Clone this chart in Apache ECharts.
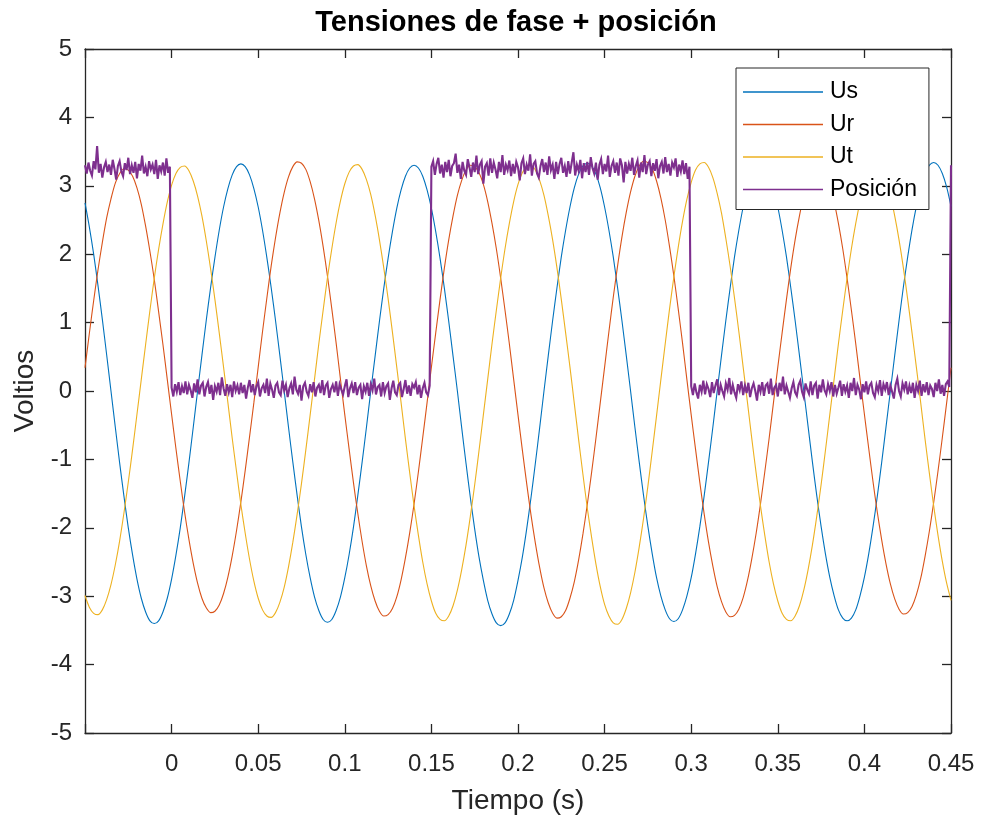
<!DOCTYPE html>
<html>
<head>
<meta charset="utf-8">
<script src="https://cdn.jsdelivr.net/npm/echarts@6/dist/echarts.min.js"></script>
<style>
  html, body { margin: 0; padding: 0; background: #ffffff; }
  #chart { width: 981px; height: 816px; }
</style>
</head>
<body>
<div id="chart"></div>
<script>
// Phase voltages sampled every 2.5 ms starting at t = -0.05 s
const waveStart = -0.05;
const waveStep = 0.0025;

const usValues = [
  2.75, 2.40, 2.00, 1.54, 1.05, 0.53, 0.00,
  -0.53, -1.05, -1.54, -2.00, -2.40, -2.75, -3.03, -3.23, -3.36, -3.40, -3.36, -3.23, -3.03, -2.75, -2.40, -2.00, -1.54, -1.05, -0.53, 0.00,
  0.52, 1.03, 1.51, 1.95, 2.35, 2.69, 2.96, 3.16, 3.28, 3.32, 3.28, 3.16, 2.96, 2.69, 2.35, 1.95, 1.51, 1.03, 0.52, 0.00,
  -0.53, -1.04, -1.53, -1.99, -2.39, -2.73, -3.01, -3.21, -3.34, -3.38, -3.34, -3.21, -3.01, -2.73, -2.39, -1.99, -1.53, -1.04, -0.53, 0.00,
  0.51, 1.02, 1.50, 1.94, 2.33, 2.67, 2.94, 3.14, 3.26, 3.30, 3.26, 3.14, 2.94, 2.67, 2.33, 1.94, 1.50, 1.02, 0.51, 0.00,
  -0.54, -1.06, -1.56, -2.02, -2.43, -2.77, -3.06, -3.26, -3.39, -3.43, -3.39, -3.26, -3.06, -2.77, -2.43, -2.02, -1.56, -1.06, -0.54, 0.00,
  0.52, 1.03, 1.51, 1.96, 2.35, 2.69, 2.97, 3.17, 3.29, 3.33, 3.29, 3.17, 2.97, 2.69, 2.35, 1.96, 1.51, 1.03, 0.52, 0.00,
  -0.53, -1.04, -1.53, -1.98, -2.38, -2.73, -3.00, -3.20, -3.33, -3.37, -3.33, -3.20, -3.00, -2.73, -2.38, -1.98, -1.53, -1.04, -0.53, 0.00,
  0.52, 1.03, 1.51, 1.96, 2.35, 2.69, 2.97, 3.17, 3.29, 3.33, 3.29, 3.17, 2.97, 2.69, 2.35, 1.96, 1.51, 1.03, 0.52, 0.00,
  -0.52, -1.04, -1.53, -1.98, -2.38, -2.72, -2.99, -3.20, -3.32, -3.36, -3.32, -3.20, -2.99, -2.72, -2.38, -1.98, -1.53, -1.04, -0.52, 0.00,
  0.52, 1.03, 1.52, 1.96, 2.36, 2.70, 2.98, 3.18, 3.30, 3.34, 3.30, 3.18, 2.98, 2.70
];

const urValues = [
  0.34, 0.84, 1.32, 1.77, 2.17, 2.53, 2.81, 3.04, 3.18, 3.25, 3.23, 3.14, 2.97, 2.73, 2.41, 2.04, 1.63, 1.16, 0.68, 0.17,
  -0.34, -0.84, -1.32, -1.77, -2.17, -2.52, -2.81, -3.03, -3.17, -3.24, -3.22, -3.13, -2.96, -2.72, -2.41, -2.04, -1.62, -1.16, -0.67, -0.17,
  0.35, 0.87, 1.36, 1.83, 2.24, 2.60, 2.90, 3.13, 3.28, 3.35, 3.33, 3.24, 3.06, 2.81, 2.49, 2.11, 1.68, 1.20, 0.70, 0.17,
  -0.35, -0.85, -1.34, -1.79, -2.20, -2.56, -2.85, -3.07, -3.22, -3.29, -3.27, -3.18, -3.01, -2.76, -2.44, -2.07, -1.65, -1.18, -0.68, -0.17,
  0.35, 0.85, 1.34, 1.80, 2.21, 2.56, 2.86, 3.08, 3.23, 3.30, 3.28, 3.19, 3.02, 2.77, 2.45, 2.08, 1.65, 1.18, 0.69, 0.17,
  -0.35, -0.86, -1.35, -1.81, -2.22, -2.58, -2.88, -3.10, -3.25, -3.32, -3.30, -3.21, -3.03, -2.79, -2.47, -2.09, -1.66, -1.19, -0.69, -0.17,
  0.35, 0.87, 1.37, 1.83, 2.25, 2.61, 2.91, 3.14, 3.29, 3.36, 3.34, 3.25, 3.07, 2.82, 2.50, 2.11, 1.68, 1.20, 0.70, 0.17,
  -0.35, -0.85, -1.34, -1.80, -2.21, -2.56, -2.86, -3.08, -3.23, -3.30, -3.28, -3.19, -3.02, -2.77, -2.45, -2.08, -1.65, -1.18, -0.69, -0.17,
  0.35, 0.85, 1.34, 1.80, 2.21, 2.56, 2.86, 3.08, 3.23, 3.30, 3.28, 3.19, 3.02, 2.77, 2.45, 2.08, 1.65, 1.18, 0.69, 0.17,
  -0.34, -0.84, -1.33, -1.78, -2.18, -2.53, -2.82, -3.04, -3.19, -3.26, -3.24, -3.15, -2.98, -2.74, -2.42, -2.05, -1.63, -1.17, -0.68, -0.17,
  0.34
];

const utValues = [
  -2.99, -3.16, -3.25, -3.27, -3.20, -3.05, -2.83, -2.54, -2.19, -1.78, -1.33, -0.85, -0.34,
  0.17, 0.68, 1.18, 1.65, 2.07, 2.44, 2.76, 3.01, 3.18, 3.27, 3.29, 3.22, 3.07, 2.85, 2.56, 2.20, 1.79, 1.34, 0.85, 0.35,
  -0.17, -0.69, -1.18, -1.66, -2.08, -2.46, -2.78, -3.03, -3.20, -3.29, -3.31, -3.24, -3.09, -2.87, -2.57, -2.21, -1.80, -1.35, -0.86, -0.35,
  0.17, 0.69, 1.18, 1.66, 2.08, 2.46, 2.78, 3.03, 3.20, 3.29, 3.31, 3.24, 3.09, 2.87, 2.57, 2.21, 1.80, 1.35, 0.86, 0.35,
  -0.17, -0.70, -1.20, -1.68, -2.11, -2.50, -2.82, -3.07, -3.25, -3.34, -3.36, -3.29, -3.14, -2.91, -2.61, -2.25, -1.83, -1.37, -0.87, -0.35,
  0.17, 0.69, 1.18, 1.65, 2.08, 2.45, 2.77, 3.02, 3.19, 3.28, 3.30, 3.23, 3.08, 2.86, 2.56, 2.21, 1.80, 1.34, 0.85, 0.35,
  -0.18, -0.71, -1.22, -1.71, -2.14, -2.53, -2.86, -3.12, -3.29, -3.39, -3.41, -3.34, -3.18, -2.95, -2.65, -2.28, -1.86, -1.39, -0.88, -0.36,
  0.17, 0.69, 1.20, 1.67, 2.10, 2.48, 2.80, 3.05, 3.23, 3.32, 3.34, 3.27, 3.12, 2.89, 2.60, 2.23, 1.82, 1.36, 0.87, 0.35,
  -0.17, -0.70, -1.20, -1.68, -2.11, -2.50, -2.82, -3.07, -3.25, -3.34, -3.36, -3.29, -3.14, -2.91, -2.61, -2.25, -1.83, -1.37, -0.87, -0.35,
  0.17, 0.69, 1.18, 1.65, 2.08, 2.45, 2.77, 3.02, 3.19, 3.28, 3.30, 3.23, 3.08, 2.86, 2.56, 2.21, 1.80, 1.34, 0.85, 0.35,
  -0.17, -0.70, -1.20, -1.68, -2.11, -2.49, -2.81, -3.06
];

// Position sensor output, sampled every 1 ms starting at t = -0.05 s
const posStart = -0.05;
const posStep = 0.001;

const posValues = [
  // -0.050 .. -0.001 s : high
  3.30, 3.18, 3.34, 3.22, 3.15, 3.36, 3.24, 3.58, 3.19, 3.32,
  3.12, 3.27, 3.35, 3.20, 3.31, 3.16, 3.38, 3.25, 3.09, 3.29,
  3.36, 3.21, 3.14, 3.33, 3.23, 3.41, 3.17, 3.30, 3.19, 3.35,
  3.11, 3.32, 3.22, 3.44, 3.18, 3.28, 3.14, 3.36, 3.24, 3.31,
  3.17, 3.38, 3.10, 3.30, 3.21, 3.34, 3.15, 3.40, 3.19, 3.28,
  // 0.000 .. 0.149 s : low
  0.05, -0.08, 0.10, -0.01, 0.13, -0.06, 0.07, -0.03, 0.14, -0.05,
  0.09, 0.01, -0.10, 0.11, -0.02, 0.17, -0.05, 0.08, 0.12, -0.08,
  0.06, 0.13, -0.04, 0.09, -0.13, 0.07, -0.01, 0.12, -0.06, 0.20,
  0.04, -0.07, 0.10, -0.02, 0.09, -0.09, 0.14, 0.00, 0.08, -0.05,
  0.12, -0.03, 0.09, -0.11, 0.05, 0.16, -0.02, 0.10, -0.06, 0.07,
  0.13, -0.08, 0.04, 0.09, -0.03, 0.18, -0.07, 0.11, 0.02, -0.10,
  0.08, 0.12, -0.02, -0.06, 0.15, 0.01, 0.09, -0.09, 0.04, 0.11,
  -0.05, 0.21, 0.02, -0.04, 0.09, -0.14, 0.07, 0.12, -0.01, -0.07,
  0.10, -0.02, 0.13, -0.08, 0.05, 0.09, -0.03, 0.16, -0.06, 0.08,
  0.12, -0.10, 0.03, 0.09, -0.02, 0.14, -0.07, 0.10, 0.02, -0.05,
  0.07, 0.17, -0.09, 0.04, 0.11, -0.03, 0.13, -0.06, 0.05, 0.09,
  -0.12, 0.07, -0.01, 0.12, -0.07, 0.10, 0.01, 0.18, -0.05, 0.06,
  0.09, -0.08, 0.13, -0.03, 0.07, 0.11, -0.13, 0.04, 0.15, -0.02,
  -0.06, 0.09, 0.12, -0.09, 0.03, 0.16, -0.04, 0.08, -0.07, 0.10,
  0.05, 0.13, -0.05, 0.09, -0.10, 0.04, 0.12, -0.02, -0.06, 0.08,
  // 0.150 .. 0.299 s : high
  3.28, 3.36, 3.16, 3.32, 3.41, 3.18, 3.31, 3.12, 3.35, 3.20,
  3.38, 3.14, 3.29, 3.33, 3.47, 3.19, 3.31, 3.10, 3.35, 3.22,
  3.16, 3.39, 3.27, 3.13, 3.34, 3.20, 3.44, 3.17, 3.31, 3.36,
  3.03, 3.28, 3.33, 3.15, 3.40, 3.19, 3.34, 3.24, 3.11, 3.35,
  3.20, 3.45, 3.16, 3.31, 3.23, 3.37, 3.14, 3.32, 3.18, 3.35,
  3.27, 3.08, 3.33, 3.40, 3.17, 3.31, 3.22, 3.46, 3.15, 3.32,
  3.36, 3.18, 3.12, 3.29, 3.39, 3.20, 3.34, 3.16, 3.43, 3.23,
  3.31, 3.10, 3.35, 3.17, 3.32, 3.41, 3.19, 3.29, 3.13, 3.36,
  3.18, 3.34, 3.49, 3.15, 3.31, 3.22, 3.38, 3.11, 3.33, 3.20,
  3.35, 3.16, 3.42, 3.26, 3.18, 3.34, 3.09, 3.31, 3.39, 3.17,
  3.32, 3.21, 3.44, 3.13, 3.29, 3.36, 3.19, 3.34, 3.15, 3.40,
  3.30, 3.05, 3.35, 3.18, 3.32, 3.22, 3.41, 3.16, 3.29, 3.37,
  3.12, 3.34, 3.20, 3.45, 3.17, 3.31, 3.36, 3.14, 3.33, 3.22,
  3.39, 3.11, 3.29, 3.35, 3.18, 3.42, 3.20, 3.32, 3.15, 3.34,
  3.27, 3.40, 3.13, 3.31, 3.21, 3.37, 3.17, 3.33, 3.10, 3.28,
  // 0.300 .. 0.449 s : low
  0.07, -0.06, 0.11, -0.02, -0.11, 0.09, -0.01, 0.15, -0.05, 0.10,
  0.03, -0.09, 0.13, -0.03, 0.08, 0.17, -0.06, 0.09, 0.00, -0.08,
  0.11, 0.02, 0.19, -0.05, 0.09, -0.02, -0.10, 0.10, 0.01, 0.14,
  -0.06, 0.08, -0.03, 0.12, -0.09, 0.04, 0.11, 0.00, -0.14, 0.09,
  -0.01, 0.13, -0.07, 0.08, 0.11, -0.04, 0.18, -0.06, 0.05, 0.09,
  -0.08, 0.12, 0.00, 0.21, -0.05, 0.08, 0.10, -0.10, 0.04, 0.13,
  -0.02, -0.07, 0.09, 0.15, -0.01, -0.09, 0.11, 0.02, -0.04, 0.14,
  -0.06, 0.08, 0.12, -0.11, 0.09, -0.02, 0.17, 0.01, -0.05, 0.10,
  0.00, 0.13, -0.08, 0.09, -0.04, 0.05, 0.15, -0.07, 0.10, -0.01,
  0.08, -0.10, 0.12, 0.00, 0.19, -0.06, 0.09, 0.02, -0.12, 0.10,
  -0.02, 0.14, -0.05, 0.08, 0.12, -0.03, -0.09, 0.09, 0.00, 0.16,
  -0.07, 0.10, 0.02, 0.13, -0.06, 0.08, -0.01, -0.11, 0.09, 0.18,
  0.00, -0.08, 0.11, 0.02, 0.14, -0.05, 0.08, -0.03, 0.12, -0.10,
  0.09, 0.00, 0.15, -0.07, 0.10, -0.02, 0.13, -0.06, 0.08, 0.03,
  -0.09, 0.12, 0.00, 0.17, -0.04, 0.09, -0.07, 0.10, 0.14, 0.06,
  // 0.450 s
  3.30
];

const seriesNames = ['Us', 'Ur', 'Ut', 'Posición'];
const seriesColors = ['#0072BD', '#D95319', '#EDB120', '#7E2F8E'];

const xMin = -0.05, xMax = 0.45, xStep = 0.05;
const yMin = -5, yMax = 5, yStep = 1;

function toPairs(values, start, step) {
  return values.map((v, i) => [Number((start + i * step).toFixed(4)), v]);
}

const axisColor = '#262626';
const fontFamily = 'Liberation Sans, Arial, Helvetica, sans-serif';

// Tick labels: the left limit gets no label
function fmtX(v) {
  if (Math.abs(v - xMin) < 1e-9) return '';
  return String(Number(v.toFixed(2)));
}

const frameAxis = {
  axisLine: { show: true, onZero: false, lineStyle: { color: axisColor, width: 1.3 } },
  axisTick: { show: true, inside: true, length: 9, lineStyle: { color: axisColor, width: 1.3 } },
  splitLine: { show: false }
};

const chart = echarts.init(document.getElementById('chart'), null, { renderer: 'canvas' });

chart.setOption({
  animation: false,
  color: seriesColors,
  textStyle: { fontFamily: fontFamily },
  grid: { left: 85, right: 30, top: 49, bottom: 83, containLabel: false, outerBoundsMode: 'none' },
  graphic: [{
    type: 'text',
    x: 516,
    y: 23,
    style: {
      text: 'Tensiones de fase + posición',
      font: 'bold 29px ' + fontFamily,
      fill: '#000000',
      textAlign: 'center',
      textVerticalAlign: 'middle'
    }
  }],
  legend: {
    data: seriesNames,
    orient: 'vertical',
    left: 736,
    top: 68,
    icon: 'rect',
    itemWidth: 80,
    itemHeight: 1.5,
    itemGap: 8.5,
    padding: [12, 12, 8, 7],
    backgroundColor: '#ffffff',
    borderColor: axisColor,
    borderWidth: 1,
    borderRadius: 0,
    textStyle: { fontSize: 23, lineHeight: 24, color: '#000000', fontFamily: fontFamily, padding: [0, 0, 0, 2] }
  },
  xAxis: [Object.assign({
    type: 'value',
    min: xMin,
    max: xMax,
    interval: xStep,
    name: 'Tiempo (s)',
    nameLocation: 'middle',
    nameGap: 54,
    nameTextStyle: { fontSize: 28, color: axisColor, fontFamily: fontFamily },
    axisLabel: { fontSize: 24, color: axisColor, margin: 19, formatter: fmtX, fontFamily: fontFamily }
  }, frameAxis), Object.assign({
    type: 'value',
    position: 'top',
    min: xMin,
    max: xMax,
    interval: xStep,
    axisLabel: { show: false }
  }, frameAxis)],
  yAxis: [Object.assign({
    type: 'value',
    min: yMin,
    max: yMax,
    interval: yStep,
    name: 'Voltios',
    nameLocation: 'middle',
    nameGap: 41,
    nameTextStyle: { fontSize: 28, color: axisColor, fontFamily: fontFamily },
    axisLabel: { fontSize: 24, color: axisColor, margin: 13, fontFamily: fontFamily }
  }, frameAxis), Object.assign({
    type: 'value',
    position: 'right',
    min: yMin,
    max: yMax,
    interval: yStep,
    axisLabel: { show: false }
  }, frameAxis)],
  series: [
    {
      name: seriesNames[0], type: 'line', xAxisIndex: 0, yAxisIndex: 0,
      data: toPairs(usValues, waveStart, waveStep),
      symbol: 'none', smooth: 0.3, lineStyle: { width: 1.1, color: seriesColors[0] }
    },
    {
      name: seriesNames[1], type: 'line', xAxisIndex: 0, yAxisIndex: 0,
      data: toPairs(urValues, waveStart, waveStep),
      symbol: 'none', smooth: 0.3, lineStyle: { width: 1.1, color: seriesColors[1] }
    },
    {
      name: seriesNames[2], type: 'line', xAxisIndex: 0, yAxisIndex: 0,
      data: toPairs(utValues, waveStart, waveStep),
      symbol: 'none', smooth: 0.3, lineStyle: { width: 1.1, color: seriesColors[2] }
    },
    {
      name: seriesNames[3], type: 'line', xAxisIndex: 0, yAxisIndex: 0,
      data: toPairs(posValues, posStart, posStep),
      symbol: 'none', lineStyle: { width: 2.1, color: seriesColors[3], join: 'miter', miterLimit: 5 }
    }
  ]
});
</script>
</body>
</html>
